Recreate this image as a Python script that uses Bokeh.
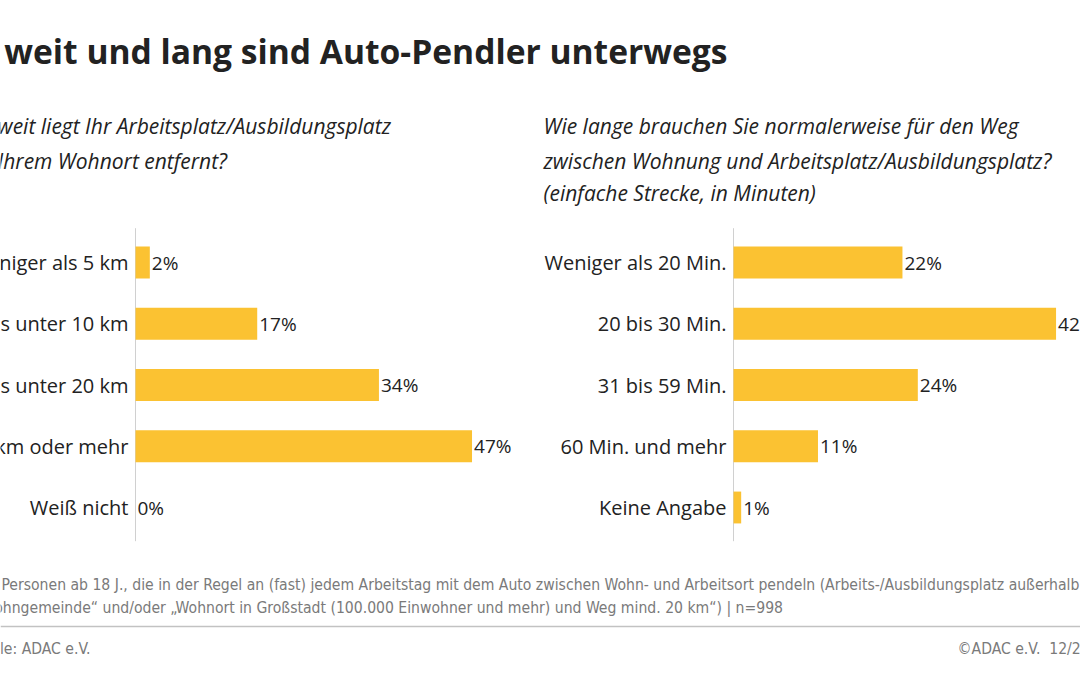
from bokeh.plotting import figure
from bokeh.models import Range1d, ColumnDataSource
from bokeh.core.properties import value
from bokeh.embed import file_html
from bokeh.resources import INLINE

# ---- data ----
title = "Wie weit und lang sind Auto-Pendler unterwegs"
left_question = ["Wie weit liegt Ihr Arbeitsplatz/Ausbildungsplatz",
                 "von Ihrem Wohnort entfernt?"]
right_question = ["Wie lange brauchen Sie normalerweise für den Weg",
                  "zwischen Wohnung und Arbeitsplatz/Ausbildungsplatz?",
                  "(einfache Strecke, in Minuten)"]
dist_categories = ["Weniger als 5 km", "5 bis unter 10 km", "10 bis unter 20 km",
                   "20 km oder mehr", "Weiß nicht"]
dist_values = [2, 17, 34, 47, 0]
time_categories = ["Weniger als 20 Min.", "20 bis 30 Min.", "31 bis 59 Min.",
                   "60 Min. und mehr", "Keine Angabe"]
time_values = [22, 42, 24, 11, 1]
footnote = ["Basis: Personen ab 18 J., die in der Regel an (fast) jedem Arbeitstag mit dem Auto zwischen Wohn- und Arbeitsort pendeln (Arbeits-/Ausbildungsplatz außerhalb",
            "der Wohngemeinde“ und/oder „Wohnort in Großstadt (100.000 Einwohner und mehr) und Weg mind. 20 km“) | n=998"]
source_text = "Quelle: ADAC e.V."
copyright_text = "©ADAC e.V.\u00a0\u00a012/2019"

# ---- style ----
BAR = "#FBC232"
DARK = "#222222"
GREY = "#7a7a7a"
FONT = value("Open Sans")
NARROW = value("DejaVu Sans Condensed")

p = figure(width=1080, height=675, x_range=Range1d(0, 1080), y_range=Range1d(675, 0),
           output_backend="svg", toolbar_location=None,
           x_axis_location=None, y_axis_location=None,
           min_border=0, min_border_left=0, min_border_right=0,
           min_border_top=0, min_border_bottom=0)
p.grid.visible = False
p.outline_line_color = None
p.background_fill_color = "white"
p.border_fill_color = "white"

p.extra_x_ranges = {"L": Range1d(-135 / 7.16, 945 / 7.16),
                    "R": Range1d(-733 / 7.68, 347 / 7.68)}
p.extra_y_ranges = {"B": Range1d((675 - 262) / 61.25, -262 / 61.25)}

idx = list(range(len(dist_categories)))
src_l = ColumnDataSource(dict(y=idx, v=dist_values, cat=dist_categories,
                              lab=[f"{v}%" for v in dist_values]))
src_r = ColumnDataSource(dict(y=idx, v=time_values, cat=time_categories,
                              lab=[f"{v}%" for v in time_values]))

for rng, src in (("L", src_l), ("R", src_r)):
    p.segment(x0=0, x1=0, y0=-0.56, y1=4.55, x_range_name=rng, y_range_name="B",
              line_color="#d0d0d0", line_width=1)
    p.hbar(y="y", left=0, right="v", height=0.52, source=src, x_range_name=rng,
           y_range_name="B", fill_color=BAR, line_color=None)
    p.text(x=0, y="y", text="cat", source=src, x_range_name=rng, y_range_name="B",
           x_offset=-7, text_align="right", text_baseline="middle",
           text_font=FONT, text_font_size="20px", text_color=DARK)
    p.text(x="v", y="y", text="lab", source=src, x_range_name=rng, y_range_name="B",
           x_offset=2, text_align="left", text_baseline="middle",
           text_font=FONT, text_font_size="19px", text_color=DARK)

# title
p.text(x=[727], y=[50], text=[title], text_align="right", text_baseline="alphabetic",
       text_font=FONT, text_font_style="bold", text_font_size="33.6px", text_color=DARK)

# questions
p.text(x=[-42, -42], y=[125, 160], text=left_question, text_align="left",
       text_baseline="alphabetic", text_font=FONT, text_font_style="italic",
       text_font_size="21px", text_color=DARK)
p.text(x=[543, 543, 543], y=[125, 160, 192], text=right_question, text_align="left",
       text_baseline="alphabetic", text_font=FONT, text_font_style="italic",
       text_font_size="21px", text_color=DARK)

# footnote
p.text(x=[-45, -47], y=[584, 607], text=footnote, text_align="left",
       text_baseline="alphabetic", text_font=NARROW, text_font_size="15.6px",
       text_color=GREY)
p.segment(x0=[0], x1=[1080], y0=[626], y1=[626], line_color="#c2c2c2", line_width=1.5)
p.text(x=[90], y=[648], text=[source_text], text_align="right",
       text_baseline="alphabetic", text_font=NARROW, text_font_size="15.6px",
       text_color=GREY)
p.text(x=[957], y=[648], text=[copyright_text], text_align="left",
       text_baseline="alphabetic", text_font=NARROW, text_font_size="15.6px",
       text_color=GREY)

open("out.html", "w").write(file_html(p, INLINE))
